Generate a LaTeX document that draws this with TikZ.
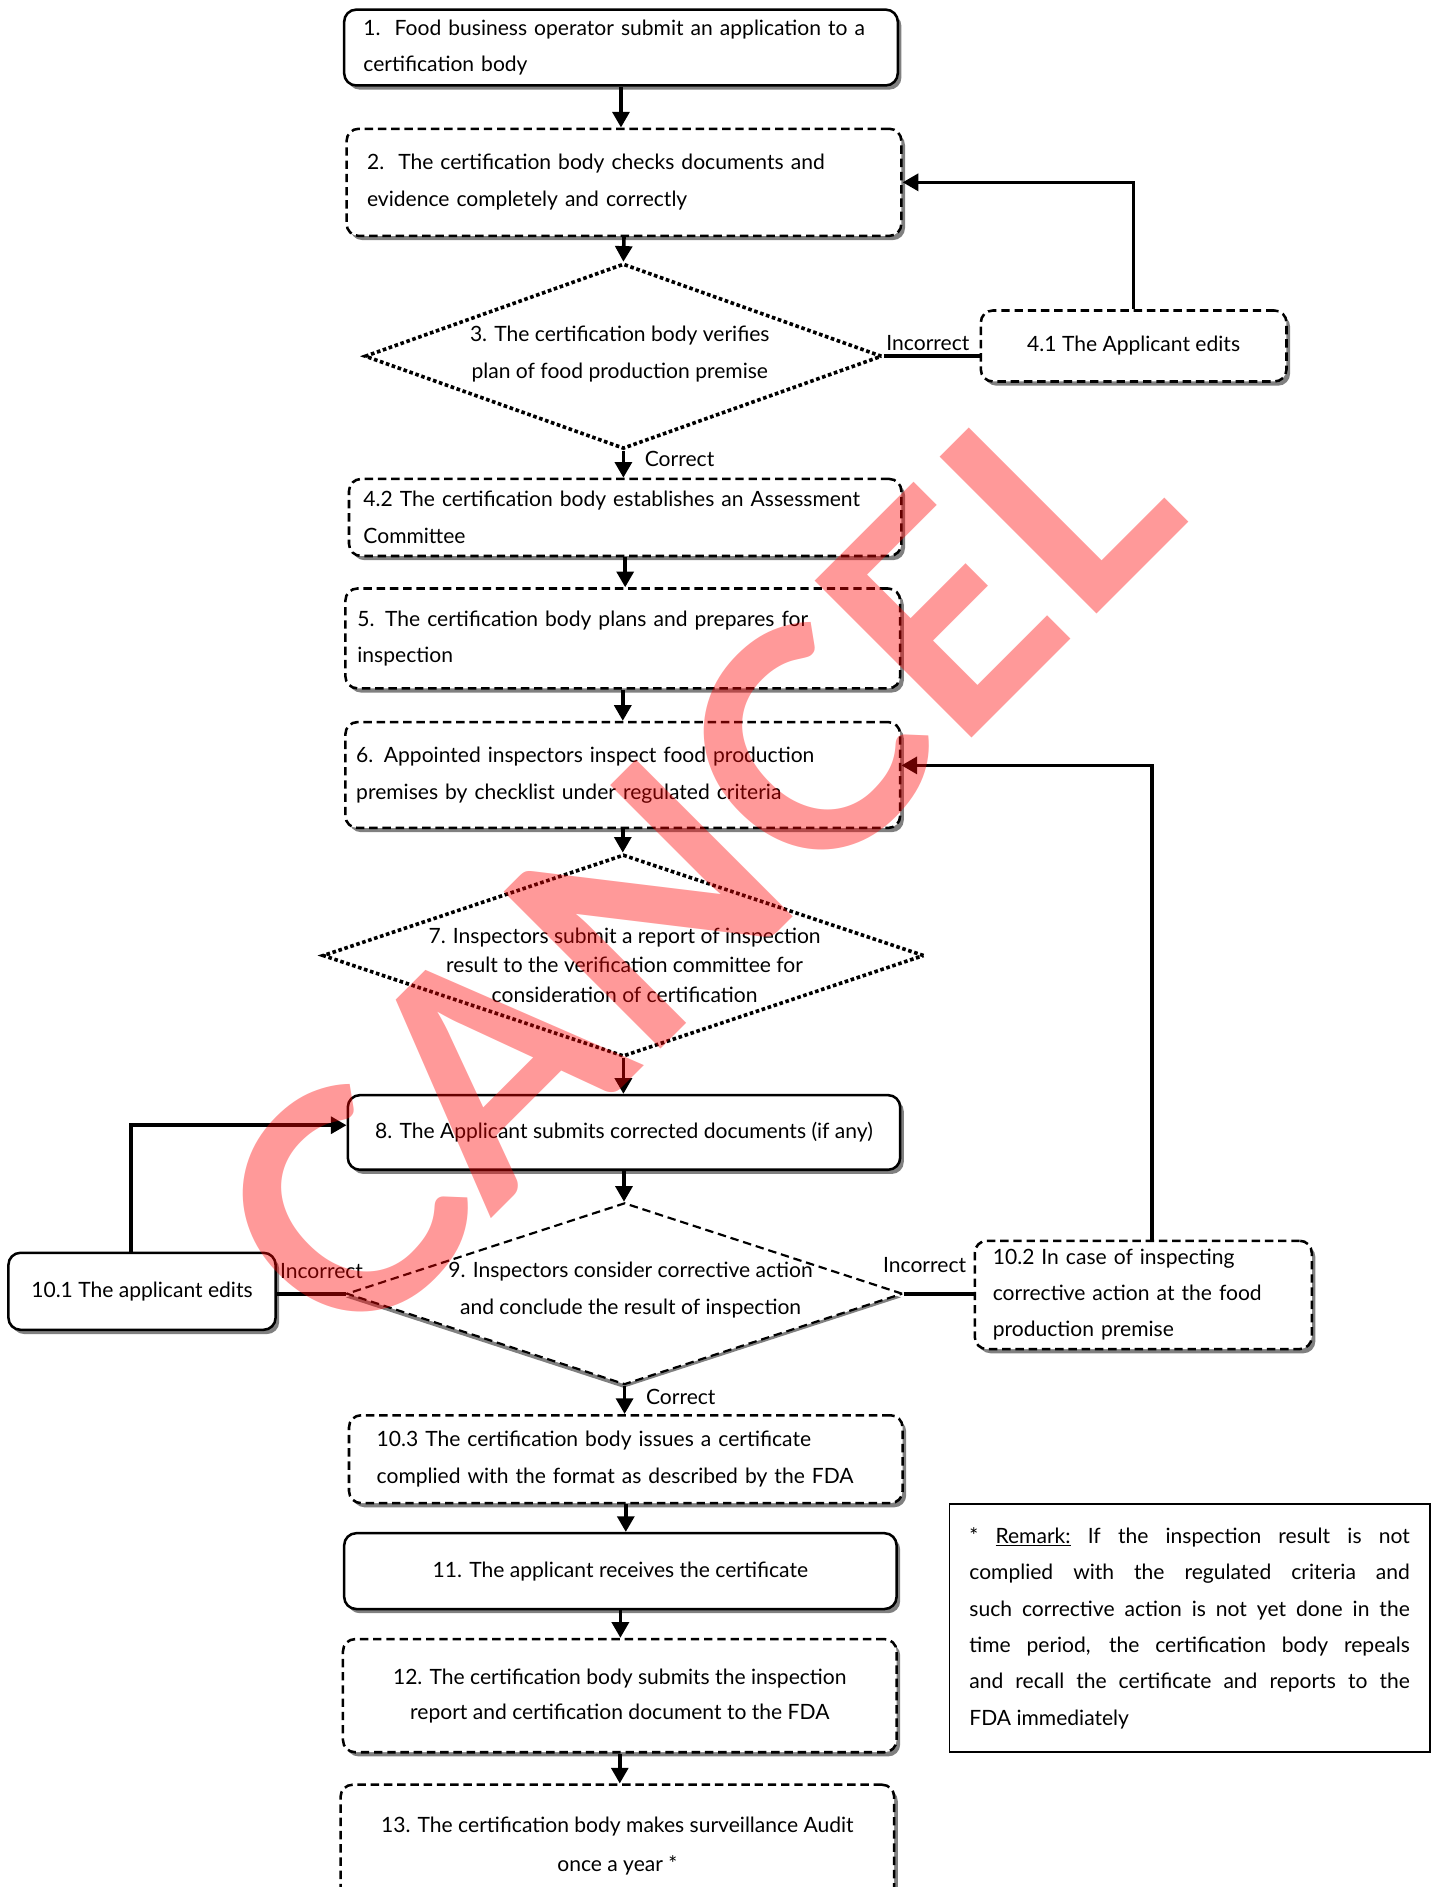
\documentclass[tikz,border=0pt]{standalone}
\usepackage{fontspec}
\setmainfont{Lato}
\usetikzlibrary{arrows.meta,shapes.geometric,shadows}

\tikzset{
  solidbox/.style={draw, rounded corners=10pt, fill=white, line width=2.1pt,
    drop shadow={shadow xshift=3pt, shadow yshift=-3.5pt, fill=black!50, opacity=1},
    font=\fontsize{17.5}{30.5}\selectfont, inner ysep=0pt},
  dashbox/.style={solidbox, dash pattern=on 7pt off 4pt},
  dotdiamond/.style={diamond, draw, line width=3pt, dash pattern=on 3pt off 2.2pt, inner sep=0pt},
  txt/.style={font=\fontsize{17.5}{30.5}\selectfont},
  flow/.style={line width=3pt, -{Triangle[width=14pt,length=13pt]}},
  link/.style={line width=3pt}
}

\begin{document}
\begin{tikzpicture}[x=1pt, y=-1pt]
\useasboundingbox (0,0) rectangle (1195,1568);

% main column
\node[solidbox, text width=428pt, inner xsep=16pt, minimum height=63pt, align=left] (b1) at (516,39.5)
  {1.\ \ Food business operator submit an application to a\\certification body};
\node[dashbox, text width=427pt, inner xsep=17pt, minimum height=89pt, align=left] (b2) at (518.5,151.5)
  {2.\ \ The certification body checks documents and\\evidence completely and correctly};
\node[dotdiamond, minimum width=430pt, minimum height=154pt] (d3) at (518,296) {};
\node[txt, align=center] (t3) at (515,294) {3. The certification body verifies\\plan of food production premise};
\node[dashbox, minimum width=254pt, minimum height=59pt, align=center] (b41) at (942,287.5) {4.1 The Applicant edits};
\node[dashbox, text width=435pt, inner xsep=12pt, minimum height=64pt, align=left] (b42) at (519.5,430)
  {4.2 The certification body establishes an Assessment\\Committee};
\node[dashbox, text width=441pt, inner xsep=10pt, minimum height=83pt, align=left] (b5) at (517.5,530.5)
  {5. The certification body plans and prepares for\\inspection};
\node[dashbox, text width=443pt, inner xsep=9pt, minimum height=88pt, align=left] (b6) at (517.5,644)
  {6. Appointed inspectors inspect food production\\premises by checklist under regulated criteria};
\node[dotdiamond, minimum width=500pt, minimum height=168pt] (d7) at (518,794) {};
\node[txt, align=center, font=\fontsize{17.5}{24.5}\selectfont] (t7) at (519,802)
  {7. Inspectors submit a report of inspection\\result to the verification committee for\\consideration of certification};
\node[solidbox, minimum width=459pt, minimum height=62pt, align=center] (b8) at (518.5,941)
  {8. The Applicant submits corrected documents (if any)};
\node[diamond, draw, fill=white, line width=1.8pt, dash pattern=on 7pt off 4pt, inner sep=0pt,
  drop shadow={shadow xshift=-1pt, shadow yshift=-3pt, fill=black!50, opacity=1},
  minimum width=462pt, minimum height=151pt] (d9) at (519,1075) {};
\node[txt, align=center] (t9) at (524,1072) {9. Inspectors consider corrective action\\and conclude the result of inspection};
\node[solidbox, minimum width=222pt, minimum height=64pt] (b101) at (118,1073) {10.1 The applicant edits};
\node[dashbox, text width=250pt, inner xsep=15pt, minimum height=90pt, align=left,
  font=\fontsize{17.5}{30}\selectfont] (b102) at (950,1076)
  {10.2 In case of inspecting\\corrective action at the food\\production premise};
\node[dashbox, text width=414pt, inner xsep=23pt, minimum height=73pt, align=left] (b103) at (520,1212.5)
  {10.3 The certification body issues a certificate\\complied with the format as described by the FDA};
\node[solidbox, minimum width=459pt, minimum height=63pt] (b11) at (515.5,1305.5)
  {11. The applicant receives the certificate};
\node[dashbox, minimum width=460pt, minimum height=94pt, align=center,
  font=\fontsize{17.5}{29}\selectfont] (b12) at (515,1409)
  {12. The certification body submits the inspection\\report and certification document to the FDA};
\node[dashbox, minimum width=460pt, minimum height=102pt, align=center,
  font=\fontsize{17.5}{33}\selectfont] (b13) at (513,1534)
  {13. The certification body makes surveillance Audit\\once a year *};

% remark
\node[draw, line width=1.5pt, text width=366pt, inner xsep=16.5pt, minimum height=206pt,
  align=justify, font=\fontsize{17.5}{30.2}\selectfont] (remark) at (988.5,1353)
  {* \underline{Remark:} If the inspection result is not\linebreak
   complied with the regulated criteria and\linebreak
   such corrective action is not yet done in the\linebreak
   time period, the certification body repeals\linebreak
   and recall the certificate and reports to the\linebreak
   FDA immediately};

% connectors
\draw[flow] (b1.south) -- (b1.south |- b2.north);
\draw[flow] (b2.south) -- (d3.north);
\draw[link] (d3.east) -- (d3.east -| b41.west) node[txt, pos=0.46, above] {Incorrect};
\draw[flow] (b41.north) |- (b2.east);
\draw[flow] (d3.south) -- (d3.south |- b42.north) node[txt, pos=0.3, right=13pt] {Correct};
\draw[flow] (b42.south) -- (b42.south |- b5.north);
\draw[flow] (b5.south) -- (b5.south |- b6.north);
\draw[flow] (b6.south) -- (b6.south |- d7.north);
\draw[flow] (d7.south) -- (d7.south |- b8.north);
\draw[flow] (b8.south) -- (b8.south |- d9.north);
\draw[link] (d9.west) -- (d9.west -| b101.east) node[txt, pos=0.35, above=8pt] {Incorrect};
\draw[flow] ([xshift=-9pt]b101.north) |- ([yshift=6pt]b8.west);
\draw[link] (d9.east) -- (d9.east -| b102.west) node[txt, pos=0.3, above=13pt] {Incorrect};
\draw[flow] ([xshift=7pt]b102.north) |- ([yshift=8pt]b6.east);
\draw[flow] (d9.south) -- (d9.south |- b103.north) node[txt, pos=0.4, right=13pt] {Correct};
\draw[flow] (b103.south) -- (b103.south |- b11.north);
\draw[flow] (b11.south) -- (b11.south |- b12.north);
\draw[flow] (b12.south) -- (b12.south |- b13.north);

% watermark
\node[text=red, opacity=0.4, rotate=45, font=\fontsize{255}{255}\selectfont\bfseries] (cancel) at (575,716) {CANCEL};
\end{tikzpicture}
\end{document}
